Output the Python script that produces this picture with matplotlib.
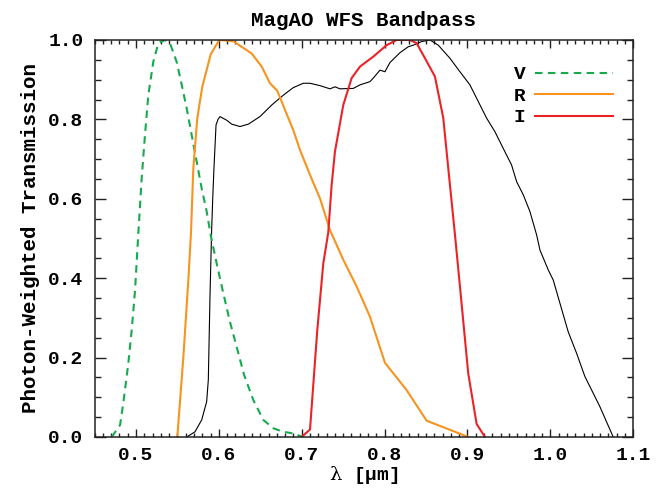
import matplotlib
matplotlib.use("Agg")
import matplotlib.pyplot as plt
from matplotlib.ticker import MultipleLocator

# ---- data ----
v_wl = [0.4707, 0.4808, 0.4847, 0.4908, 0.4949, 0.4989, 0.5028, 0.5069, 0.5109, 0.5149,
        0.5209, 0.5270, 0.5350, 0.5410, 0.5491, 0.5552, 0.5612, 0.5672, 0.5733, 0.5793,
        0.5853, 0.5903, 0.5974, 0.6054, 0.6134, 0.6215, 0.6305, 0.6416, 0.6536, 0.6657,
        0.6777, 0.6898, 0.6999]
v_tr = [0.000, 0.030, 0.085, 0.186, 0.270, 0.370, 0.511, 0.652, 0.761, 0.861,
        0.945, 0.992, 1.000, 0.992, 0.945, 0.887, 0.828, 0.761, 0.693, 0.626,
        0.568, 0.507, 0.437, 0.362, 0.290, 0.227, 0.156, 0.093, 0.043, 0.022,
        0.013, 0.009, 0.001]

r_wl = [0.5499, 0.5572, 0.5632, 0.5664, 0.5692, 0.5740, 0.5800, 0.5902, 0.6005, 0.6174,
        0.6396, 0.6517, 0.6617, 0.6705, 0.6798, 0.6898, 0.6979, 0.7100, 0.7220, 0.7341,
        0.7502, 0.7663, 0.7823, 0.8004, 0.8266, 0.8507, 0.9009]
r_tr = [0.000, 0.202, 0.395, 0.515, 0.677, 0.803, 0.882, 0.964, 1.000, 0.997,
        0.966, 0.933, 0.891, 0.872, 0.824, 0.773, 0.723, 0.660, 0.601, 0.521,
        0.446, 0.379, 0.303, 0.187, 0.118, 0.041, 0.000]

i_wl = [0.6999, 0.7100, 0.7188, 0.7260, 0.7320, 0.7361, 0.7401, 0.7501, 0.7602, 0.7703,
        0.7863, 0.8025, 0.8145, 0.8306, 0.8386, 0.8487, 0.8607, 0.8708, 0.8768, 0.8849,
        0.8909, 0.9009, 0.9110, 0.9210]
i_tr = [0.000, 0.019, 0.270, 0.437, 0.515, 0.635, 0.719, 0.836, 0.904, 0.933,
        0.958, 0.987, 1.000, 1.000, 0.992, 0.954, 0.908, 0.803, 0.677, 0.509,
        0.379, 0.160, 0.033, 0.000]

wfs_wl = [0.5612, 0.5712, 0.5793, 0.5853, 0.5873, 0.5893, 0.5913, 0.5926, 0.5941, 0.5966,
          0.5990, 0.6014, 0.6094, 0.6155, 0.6255, 0.6356, 0.6496, 0.6637, 0.6778, 0.6898,
          0.7019, 0.7100, 0.7220, 0.7341, 0.7401, 0.7461, 0.7622, 0.7703, 0.7823, 0.7863,
          0.7944, 0.8004, 0.8064, 0.8185, 0.8286, 0.8346, 0.8447, 0.8547, 0.8647, 0.8788,
          0.8909, 0.9029, 0.9130, 0.9231, 0.9331, 0.9431, 0.9532, 0.9593, 0.9673, 0.9753,
          0.9834, 0.9874, 0.9974, 1.0035, 1.0115, 1.0215, 1.0316, 1.0417, 1.0477, 1.0598,
          1.0758]
wfs_tr = [0.000, 0.013, 0.043, 0.089, 0.144, 0.353, 0.521, 0.600, 0.677, 0.786,
          0.800, 0.807, 0.798, 0.788, 0.782, 0.788, 0.807, 0.836, 0.861, 0.880,
          0.891, 0.891, 0.885, 0.877, 0.882, 0.877, 0.878, 0.887, 0.895, 0.904,
          0.924, 0.920, 0.943, 0.968, 0.983, 0.987, 0.996, 1.000, 0.987, 0.954,
          0.920, 0.887, 0.845, 0.803, 0.769, 0.727, 0.685, 0.643, 0.610, 0.568,
          0.509, 0.471, 0.421, 0.395, 0.337, 0.265, 0.211, 0.152, 0.127, 0.076,
          0.000]

title = "MagAO WFS Bandpass"
xlabel = r"$\mathrm{\lambda}$ [μm]"
ylabel = "Photon-Weighted Transmission"
labels = ["V", "R", "I"]

# ---- style ----
plt.rcParams["mathtext.fontset"] = "custom"
plt.rcParams["mathtext.rm"] = "DejaVu Serif"
plt.rcParams["mathtext.it"] = "DejaVu Serif"
mono = "Liberation Mono"
green = "#1aa84f"
orange = "#f7931e"
red = "#ec2227"

fig = plt.figure(figsize=(6.68, 4.90), dpi=100)
ax = fig.add_axes([0.1415, 0.1082, 0.948 - 0.1415, 0.9184 - 0.1082])

ax.plot(wfs_wl, wfs_tr, color="black", lw=0.8)
ax.plot(v_wl, v_tr, color=green, lw=1.5, dashes=(3.6, 2.6), label=labels[0])
ax.plot(r_wl, r_tr, color=orange, lw=1.5, label=labels[1])
ax.plot(i_wl, i_tr, color=red, lw=1.5, label=labels[2])

ax.set_xlim(0.45, 1.1)
ax.set_ylim(0.0, 1.0)
ax.xaxis.set_major_locator(MultipleLocator(0.1))
ax.xaxis.set_minor_locator(MultipleLocator(0.01))
ax.yaxis.set_major_locator(MultipleLocator(0.2))
ax.yaxis.set_minor_locator(MultipleLocator(0.05))
ax.xaxis.set_major_formatter(plt.FuncFormatter(lambda v, p: f"{v:.1f}"))
ax.yaxis.set_major_formatter(plt.FuncFormatter(lambda v, p: f"{v:.1f}"))

ax.tick_params(axis="both", which="both", direction="in", top=True, right=True,
               width=1.0, color="#222222")
ax.tick_params(axis="x", which="major", length=5.8, pad=7)
ax.tick_params(axis="x", which="minor", length=2.6)
ax.tick_params(axis="y", which="major", length=8, pad=8)
ax.tick_params(axis="y", which="minor", length=4)
for lab in ax.get_xticklabels() + ax.get_yticklabels():
    lab.set_fontfamily(mono)
    lab.set_fontweight("bold")
    lab.set_fontsize(14)
for s in ax.spines.values():
    s.set_linewidth(1.1)
    s.set_color("#222222")

ax.set_title(title, fontfamily=mono, fontweight="bold", fontsize=15, pad=10)
ax.set_ylabel(ylabel, fontfamily=mono, fontweight="bold", fontsize=15, labelpad=6)
ax.set_xlabel(xlabel, fontfamily=mono, fontweight="bold", fontsize=14, labelpad=0)

leg = ax.legend(loc="upper right", bbox_to_anchor=(0.962, 0.935), frameon=False,
                markerfirst=False, handlelength=4.0, handletextpad=0.5,
                labelspacing=0.2, borderpad=0, borderaxespad=0,
                prop={"family": mono, "weight": "bold", "size": 14})

fig.savefig("out.png", dpi=100)
